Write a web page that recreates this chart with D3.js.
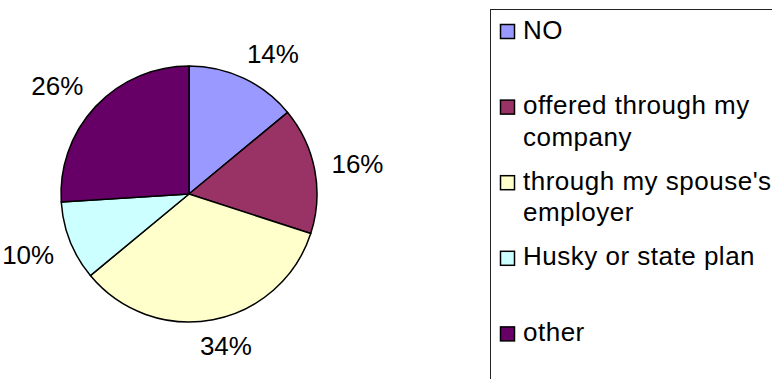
<!DOCTYPE html>
<html>
<head>
<meta charset="utf-8">
<script src="https://cdn.jsdelivr.net/npm/d3@7"></script>
<style>
  html, body { margin: 0; padding: 0; background: #ffffff; }
  svg { display: block; font-family: "Liberation Sans", Arial, sans-serif; }
</style>
</head>
<body>
<svg id="chart" width="772" height="379"></svg>
<script>
// Survey answers: where respondents get their health coverage
const categories = ["NO", "offered through my company", "through my spouse's employer", "Husky or state plan", "other"];
const shares = [14, 16, 34, 10, 26];
const colors = ["#9999FF", "#993366", "#FFFFCC", "#CCFFFF", "#660066"];

const svg = d3.select("#chart");
const W = 772, H = 379;
const cx = 189, cy = 194, radius = 128;
const fontSize = 26;

const pie = d3.pie().sort(null).value(d => d.value);
const arcs = pie(categories.map((c, i) => ({ name: c, value: shares[i], color: colors[i] })));
const arc = d3.arc().innerRadius(0).outerRadius(radius);

const g = svg.append("g").attr("transform", `translate(${cx},${cy})`);

g.selectAll("path.slice")
  .data(arcs)
  .join("path")
  .attr("class", "slice")
  .attr("d", arc)
  .attr("fill", d => d.data.color)
  .attr("stroke", "#000")
  .attr("stroke-width", 1.5)
  .attr("stroke-linejoin", "round");

// Percentage labels sit just outside the rim; the text box is pushed
// away from the pie so its nearest side faces the slice's mid-angle.
const total = d3.sum(shares);
const gap = 17;
const clamp = v => Math.max(-1, Math.min(1, v));
g.selectAll("text.pct")
  .data(arcs)
  .join("text")
  .attr("class", "pct")
  .attr("text-anchor", "middle")
  .attr("dy", "0.358em")
  .attr("font-size", fontSize)
  .attr("fill", "#000")
  .text(d => d3.format(".0%")(d.data.value / total))
  .each(function(d) {
    const a = (d.startAngle + d.endAngle) / 2;
    const s = Math.sin(a), c = Math.cos(a);
    const w = this.getComputedTextLength();
    const h = 0.716 * fontSize;
    const x = (radius + gap) * s + (w / 2) * clamp(2 * s);
    const y = -(radius + gap) * c - (h / 2) * clamp(2 * c);
    d3.select(this).attr("x", x).attr("y", y);
  });

// Legend: framed box, entries stacked at an even pitch, long names wrapped
const legendX = 490, legendY = 9, legendPitch = 75.6, firstRow = 22.5;
const swatch = 14, textX = 33, lineH = 31.5, wrapWidth = 252;
const legend = svg.append("g");
legend.append("rect")
  .attr("x", legendX + 0.5).attr("y", legendY + 0.5)
  .attr("width", W).attr("height", H)
  .attr("fill", "#fff").attr("stroke", "#222").attr("stroke-width", 1);

const items = legend.selectAll("g.item")
  .data(arcs)
  .join("g")
  .attr("class", "item")
  .attr("transform", (d, i) => `translate(${legendX},${legendY + firstRow + i * legendPitch})`);

items.append("rect")
  .attr("x", 10.5).attr("y", -swatch / 2)
  .attr("width", swatch).attr("height", swatch)
  .attr("fill", d => d.data.color)
  .attr("stroke", "#000").attr("stroke-width", 1.5);

items.each(function(d) {
  const t = d3.select(this).append("text")
    .attr("x", textX).attr("y", 7)
    .attr("font-size", fontSize)
    .attr("letter-spacing", 0.5)
    .attr("fill", "#000");
  const words = d.data.name.split(" ");
  let line = [];
  let tspan = t.append("tspan").attr("x", textX).attr("dy", 0);
  words.forEach(w => {
    line.push(w);
    tspan.text(line.join(" "));
    if (tspan.node().getComputedTextLength() > wrapWidth && line.length > 1) {
      line.pop();
      tspan.text(line.join(" "));
      line = [w];
      tspan = t.append("tspan").attr("x", textX).attr("dy", lineH).text(w);
    }
  });
});
</script>
</body>
</html>
